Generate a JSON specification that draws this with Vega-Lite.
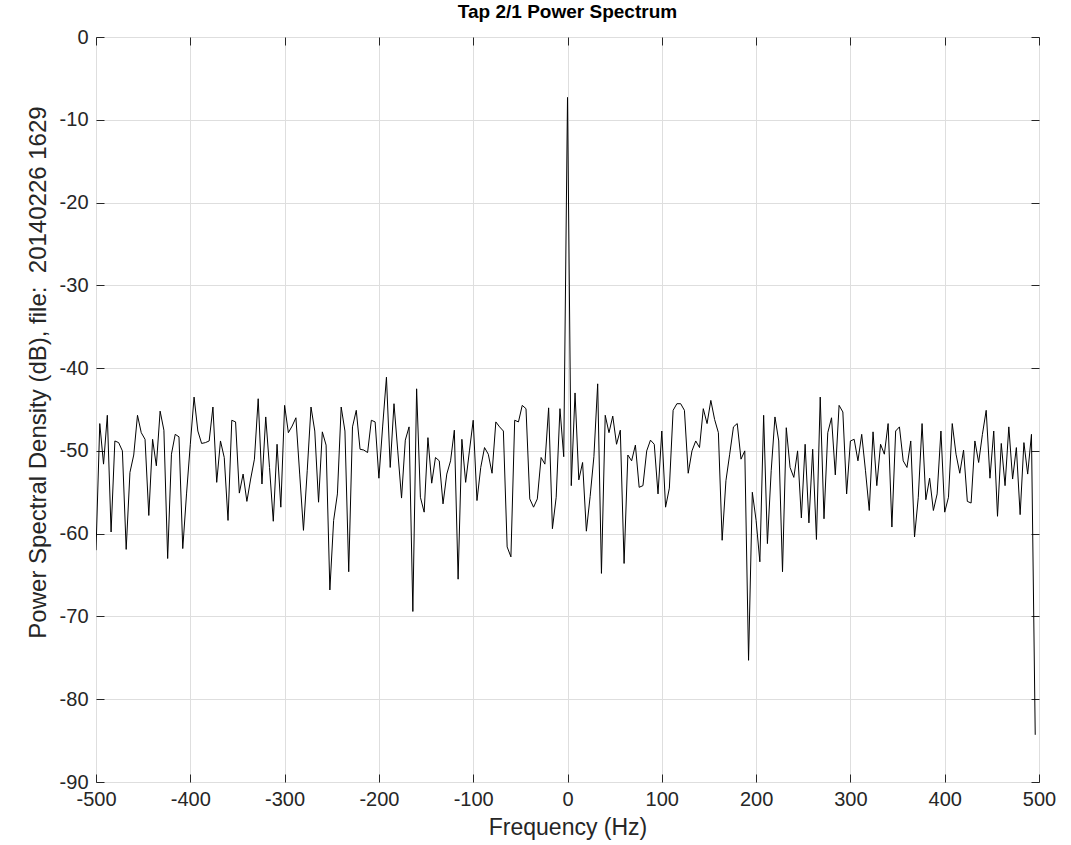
{
  "$schema": "https://vega.github.io/schema/vega-lite/v6.json",
  "width": 943,
  "height": 745,
  "autosize": {"type": "none"},
  "padding": {"left": 96, "top": 37, "right": 32, "bottom": 63},
  "background": "white",
  "title": {"text": "Tap 2/1 Power Spectrum", "font": "Liberation Sans", "fontSize": 19, "fontWeight": "bold", "color": "#000000", "anchor": "middle", "offset": 5},
  "config": {
    "view": {"stroke": "#262626", "strokeWidth": 1},
    "axis": {
      "labelFont": "Liberation Sans",
      "labelFontSize": 20,
      "labelColor": "#262626",
      "titleFont": "Liberation Sans",
      "titleFontSize": 23,
      "titleFontWeight": "normal",
      "titleColor": "#262626",
      "tickColor": "#262626",
      "tickSize": -8,
      "domain": false,
      "gridColor": "#dedede",
      "gridWidth": 1,
      "labelExpr": "'' + datum.value"
    }
  },
  "data": {"values": [
    {"f":-500,"p":-62.0},{"f":-496,"p":-46.7},{"f":-492,"p":-51.6},{"f":-488,"p":-45.7},{"f":-484,"p":-59.8},{"f":-480,"p":-48.8},{"f":-476,"p":-49.0},{"f":-472,"p":-50.0},{"f":-468,"p":-61.9},{"f":-464,"p":-52.6},
    {"f":-460,"p":-50.5},{"f":-456,"p":-45.7},{"f":-452,"p":-47.8},{"f":-448,"p":-48.6},{"f":-444,"p":-57.8},{"f":-440,"p":-48.6},{"f":-436,"p":-51.8},{"f":-432,"p":-45.2},{"f":-428,"p":-47.5},{"f":-424,"p":-63.0},
    {"f":-420,"p":-50.4},{"f":-416,"p":-48.0},{"f":-412,"p":-48.3},{"f":-408,"p":-61.8},{"f":-404,"p":-55.2},{"f":-400,"p":-49.2},{"f":-396,"p":-43.5},{"f":-392,"p":-47.6},{"f":-388,"p":-49.1},{"f":-384,"p":-49.0},
    {"f":-380,"p":-48.8},{"f":-376,"p":-44.7},{"f":-372,"p":-53.8},{"f":-368,"p":-48.8},{"f":-364,"p":-50.8},{"f":-360,"p":-58.4},{"f":-356,"p":-46.3},{"f":-352,"p":-46.5},{"f":-348,"p":-55.1},{"f":-344,"p":-52.8},
    {"f":-340,"p":-56.1},{"f":-336,"p":-53.4},{"f":-332,"p":-51.0},{"f":-328,"p":-43.7},{"f":-324,"p":-54.0},{"f":-320,"p":-45.9},{"f":-316,"p":-52.0},{"f":-312,"p":-58.5},{"f":-308,"p":-49.2},{"f":-304,"p":-56.8},
    {"f":-300,"p":-44.5},{"f":-296,"p":-47.8},{"f":-292,"p":-47.0},{"f":-288,"p":-46.0},{"f":-284,"p":-52.8},{"f":-280,"p":-59.6},{"f":-276,"p":-52.4},{"f":-272,"p":-44.7},{"f":-268,"p":-47.6},{"f":-264,"p":-56.2},
    {"f":-260,"p":-47.7},{"f":-256,"p":-49.3},{"f":-252,"p":-66.8},{"f":-248,"p":-58.4},{"f":-244,"p":-55.2},{"f":-240,"p":-44.7},{"f":-236,"p":-47.6},{"f":-232,"p":-64.6},{"f":-228,"p":-47.1},{"f":-224,"p":-45.1},
    {"f":-220,"p":-49.8},{"f":-216,"p":-49.9},{"f":-212,"p":-50.2},{"f":-208,"p":-46.3},{"f":-204,"p":-46.5},{"f":-200,"p":-53.3},{"f":-196,"p":-47.0},{"f":-192,"p":-41.1},{"f":-188,"p":-52.0},{"f":-184,"p":-44.3},
    {"f":-180,"p":-50.0},{"f":-176,"p":-55.7},{"f":-172,"p":-48.7},{"f":-168,"p":-47.1},{"f":-164,"p":-69.4},{"f":-160,"p":-42.5},{"f":-156,"p":-55.6},{"f":-152,"p":-57.4},{"f":-148,"p":-48.4},{"f":-144,"p":-53.9},
    {"f":-140,"p":-50.8},{"f":-136,"p":-51.2},{"f":-132,"p":-56.4},{"f":-128,"p":-52.8},{"f":-124,"p":-51.2},{"f":-120,"p":-47.5},{"f":-116,"p":-65.5},{"f":-112,"p":-48.6},{"f":-108,"p":-53.8},{"f":-104,"p":-50.0},
    {"f":-100,"p":-46.3},{"f":-96,"p":-56.0},{"f":-92,"p":-52.0},{"f":-88,"p":-49.6},{"f":-84,"p":-50.4},{"f":-80,"p":-52.7},{"f":-76,"p":-46.5},{"f":-72,"p":-47.1},{"f":-68,"p":-47.6},{"f":-64,"p":-61.6},
    {"f":-60,"p":-62.8},{"f":-56,"p":-46.3},{"f":-52,"p":-46.5},{"f":-48,"p":-44.5},{"f":-44,"p":-44.9},{"f":-40,"p":-55.8},{"f":-36,"p":-56.8},{"f":-32,"p":-55.8},{"f":-28,"p":-50.8},{"f":-24,"p":-51.6},
    {"f":-20,"p":-44.8},{"f":-16,"p":-59.4},{"f":-12,"p":-55.6},{"f":-8,"p":-44.9},{"f":-4,"p":-50.7},{"f":0,"p":-7.3},{"f":4,"p":-54.2},{"f":8,"p":-43.0},{"f":12,"p":-53.5},{"f":16,"p":-51.4},
    {"f":20,"p":-59.7},{"f":24,"p":-55.5},{"f":28,"p":-50.7},{"f":32,"p":-41.9},{"f":36,"p":-64.8},{"f":40,"p":-45.7},{"f":44,"p":-47.8},{"f":48,"p":-45.8},{"f":52,"p":-49.2},{"f":56,"p":-47.5},
    {"f":60,"p":-63.6},{"f":64,"p":-50.5},{"f":68,"p":-51.2},{"f":72,"p":-49.3},{"f":76,"p":-54.4},{"f":80,"p":-54.2},{"f":84,"p":-50.0},{"f":88,"p":-48.7},{"f":92,"p":-49.2},{"f":96,"p":-55.2},
    {"f":100,"p":-47.6},{"f":104,"p":-56.8},{"f":108,"p":-54.5},{"f":112,"p":-45.1},{"f":116,"p":-44.3},{"f":120,"p":-44.3},{"f":124,"p":-45.1},{"f":128,"p":-52.7},{"f":132,"p":-50.0},{"f":136,"p":-48.8},
    {"f":140,"p":-49.6},{"f":144,"p":-44.9},{"f":148,"p":-46.7},{"f":152,"p":-43.9},{"f":156,"p":-46.2},{"f":160,"p":-47.8},{"f":164,"p":-60.8},{"f":168,"p":-53.6},{"f":172,"p":-50.4},{"f":176,"p":-47.1},
    {"f":180,"p":-46.7},{"f":184,"p":-51.0},{"f":188,"p":-50.0},{"f":192,"p":-75.3},{"f":196,"p":-55.0},{"f":200,"p":-58.4},{"f":204,"p":-63.4},{"f":208,"p":-45.7},{"f":212,"p":-61.2},{"f":216,"p":-52.4},
    {"f":220,"p":-45.9},{"f":224,"p":-48.8},{"f":228,"p":-64.6},{"f":232,"p":-47.2},{"f":236,"p":-52.0},{"f":240,"p":-53.2},{"f":244,"p":-50.0},{"f":248,"p":-58.1},{"f":252,"p":-49.2},{"f":256,"p":-58.7},
    {"f":260,"p":-49.8},{"f":264,"p":-60.7},{"f":268,"p":-43.5},{"f":272,"p":-58.2},{"f":276,"p":-47.8},{"f":280,"p":-46.0},{"f":284,"p":-52.9},{"f":288,"p":-44.5},{"f":292,"p":-45.3},{"f":296,"p":-55.2},
    {"f":300,"p":-48.8},{"f":304,"p":-48.6},{"f":308,"p":-51.2},{"f":312,"p":-48.0},{"f":316,"p":-52.4},{"f":320,"p":-57.2},{"f":324,"p":-47.7},{"f":328,"p":-54.2},{"f":332,"p":-49.2},{"f":336,"p":-50.4},
    {"f":340,"p":-46.7},{"f":344,"p":-59.2},{"f":348,"p":-47.6},{"f":352,"p":-47.1},{"f":356,"p":-51.2},{"f":360,"p":-52.0},{"f":364,"p":-48.8},{"f":368,"p":-60.4},{"f":372,"p":-55.6},{"f":376,"p":-46.7},
    {"f":380,"p":-55.9},{"f":384,"p":-53.3},{"f":388,"p":-57.2},{"f":392,"p":-55.2},{"f":396,"p":-47.6},{"f":400,"p":-57.4},{"f":404,"p":-55.6},{"f":408,"p":-46.7},{"f":412,"p":-50.4},{"f":416,"p":-52.7},
    {"f":420,"p":-49.9},{"f":424,"p":-56.1},{"f":428,"p":-56.3},{"f":432,"p":-48.8},{"f":436,"p":-51.4},{"f":440,"p":-48.0},{"f":444,"p":-45.1},{"f":448,"p":-53.3},{"f":452,"p":-47.6},{"f":456,"p":-57.9},
    {"f":460,"p":-49.1},{"f":464,"p":-54.2},{"f":468,"p":-47.1},{"f":472,"p":-53.4},{"f":476,"p":-49.6},{"f":480,"p":-57.7},{"f":484,"p":-49.0},{"f":488,"p":-52.8},{"f":492,"p":-48.0},{"f":496,"p":-84.3}
  ]},
  "layer": [
    {
      "mark": {"type": "line", "color": "#000000", "strokeWidth": 1, "clip": true},
      "encoding": {
        "x": {"field": "f", "type": "quantitative", "scale": {"domain": [-500, 500], "nice": false, "zero": false},
              "axis": {"orient": "bottom", "values": [-500,-400,-300,-200,-100,0,100,200,300,400,500], "title": "Frequency (Hz)", "grid": true, "labelPadding": 15, "titlePadding": 7, "labelFlush": false}},
        "y": {"field": "p", "type": "quantitative", "scale": {"domain": [-90, 0], "nice": false, "zero": false},
              "axis": {"orient": "left", "values": [-90,-80,-70,-60,-50,-40,-30,-20,-10,0], "title": "Power Spectral Density (dB), file:\u00a0 20140226 1629", "titleFontSize": 24, "titleY": 335, "grid": true, "labelPadding": 16, "titlePadding": 9, "labelFlush": false}}
      }
    },
    {
      "mark": {"type": "line", "strokeOpacity": 0},
      "encoding": {
        "x": {"field": "f", "type": "quantitative", "scale": {"domain": [-500, 500], "nice": false, "zero": false},
              "axis": {"orient": "top", "values": [-500,-400,-300,-200,-100,0,100,200,300,400,500], "title": null, "labels": false, "grid": false}},
        "y": {"field": "p", "type": "quantitative", "scale": {"domain": [-90, 0], "nice": false, "zero": false},
              "axis": {"orient": "right", "values": [-90,-80,-70,-60,-50,-40,-30,-20,-10,0], "title": null, "labels": false, "grid": false}}
      }
    }
  ],
  "resolve": {"axis": {"x": "independent", "y": "independent"}}
}
